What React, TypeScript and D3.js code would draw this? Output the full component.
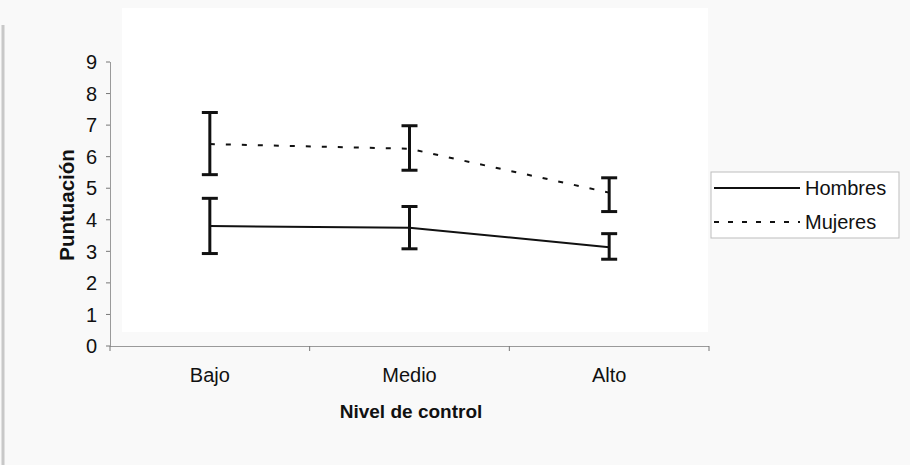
import React from "react";
import * as d3 from "d3";

const categories = ["Bajo", "Medio", "Alto"];
const seriesNames = ["Hombres", "Mujeres"];
const hombresMean = [3.8, 3.75, 3.13];
const hombresLow = [2.93, 3.08, 2.75];
const hombresHigh = [4.68, 4.42, 3.56];
const mujeresMean = [6.4, 6.25, 4.86];
const mujeresLow = [5.43, 5.57, 4.26];
const mujeresHigh = [7.4, 6.98, 5.33];
const yTicks = [0, 1, 2, 3, 4, 5, 6, 7, 8, 9];

const W = 910;
const H = 465;
const font = "'Liberation Sans', Arial, sans-serif";

export default function App() {
  const x = d3.scaleBand<string>().domain(categories).range([110, 709]);
  const y = d3.scaleLinear().domain([0, 9]).range([346, 62]);
  const cx = (c: string) => (x(c) as number) + x.bandwidth() / 2;

  const line = d3
    .line<number>()
    .x((_, i) => cx(categories[i]))
    .y((d) => y(d));

  const series = [
    { name: seriesNames[0], mean: hombresMean, low: hombresLow, high: hombresHigh, dash: undefined as string | undefined },
    { name: seriesNames[1], mean: mujeresMean, low: mujeresLow, high: mujeresHigh, dash: "5 11" },
  ];

  const xTickPos = [...categories.map((c) => x(c) as number), 709];

  return (
    <svg
      width={W}
      height={H}
      style={{ position: "absolute", left: 0, top: 0, background: "#f9f9f9" }}
      fontFamily={font}
    >
      <rect x={0} y={0} width={W} height={H} fill="#f9f9f9" />
      <rect x={122} y={8} width={586} height={324} fill="#ffffff" />
      <line x1={3} x2={3} y1={25} y2={H} stroke="#c8c8c8" strokeWidth={3} />

      {/* Y axis */}
      <line x1={110.5} x2={110.5} y1={62} y2={346} stroke="#9a9a9a" strokeWidth={1} />
      {yTicks.map((t) => (
        <g key={t}>
          <line x1={106} x2={110} y1={y(t)} y2={y(t)} stroke="#777" strokeWidth={1} />
          <text x={97} y={y(t)} dy="0.36em" textAnchor="end" fontSize={20} fill="#111">
            {t}
          </text>
        </g>
      ))}

      {/* X axis */}
      <line x1={110} x2={709} y1={346.5} y2={346.5} stroke="#9a9a9a" strokeWidth={1} />
      {xTickPos.map((p, i) => (
        <line key={i} x1={p} x2={p} y1={346} y2={351} stroke="#777" strokeWidth={1} />
      ))}
      {categories.map((c) => (
        <text key={c} x={cx(c)} y={382} textAnchor="middle" fontSize={20} fill="#111">
          {c}
        </text>
      ))}
      <text x={411} y={418} textAnchor="middle" fontSize={19} fontWeight="bold" fill="#111">
        Nivel de control
      </text>
      <text
        transform={`translate(74,205) rotate(-90)`}
        textAnchor="middle"
        fontSize={20.5}
        fontWeight="bold"
        fill="#111"
      >
        Puntuación
      </text>

      {/* Series */}
      {series.map((s) => (
        <g key={s.name}>
          <path
            d={line(s.mean) || ""}
            fill="none"
            stroke="#111"
            strokeWidth={2}
            strokeDasharray={s.dash}
          />
          {categories.map((c, i) => (
            <g key={c} stroke="#111" strokeWidth={3}>
              <line x1={cx(c)} x2={cx(c)} y1={y(s.high[i])} y2={y(s.low[i])} />
              <line x1={cx(c) - 8} x2={cx(c) + 8} y1={y(s.high[i])} y2={y(s.high[i])} />
              <line x1={cx(c) - 8} x2={cx(c) + 8} y1={y(s.low[i])} y2={y(s.low[i])} />
            </g>
          ))}
        </g>
      ))}

      {/* Legend */}
      <rect x={711} y={172} width={188} height={66} fill="#ffffff" stroke="#bdbdbd" strokeWidth={1} />
      {series.map((s, i) => {
        const ly = 188 + i * 34;
        return (
          <g key={s.name}>
            <line
              x1={714}
              x2={800}
              y1={ly}
              y2={ly}
              stroke="#111"
              strokeWidth={2}
              strokeDasharray={s.dash ? "5 9" : undefined}
            />
            <text x={805} y={ly} dy="0.36em" fontSize={20} fill="#111">
              {s.name}
            </text>
          </g>
        );
      })}
    </svg>
  );
}
